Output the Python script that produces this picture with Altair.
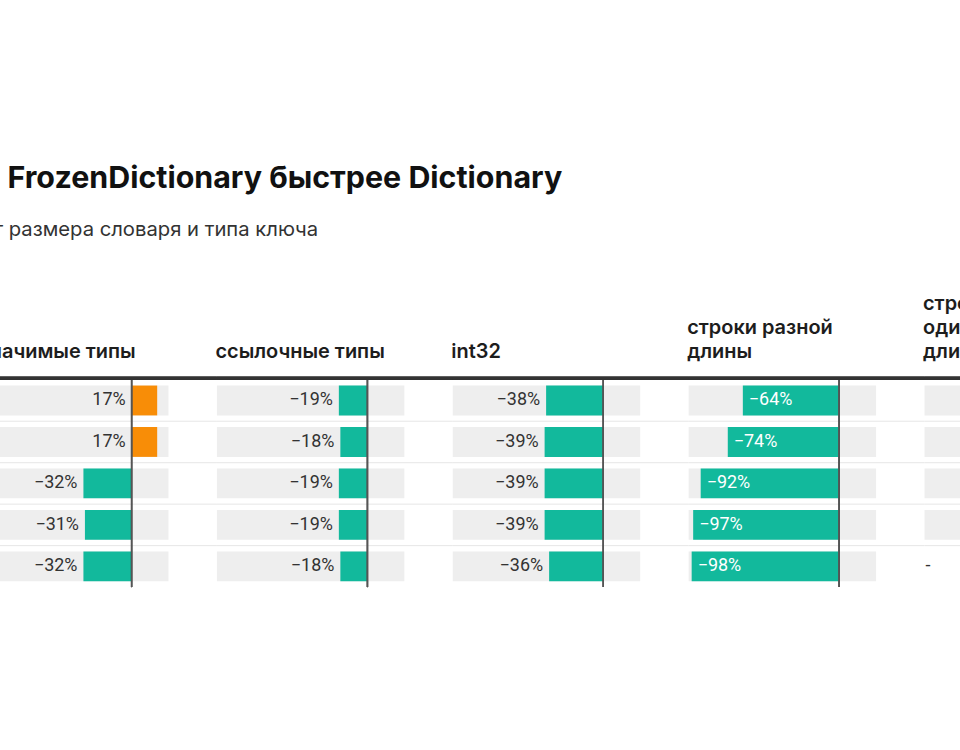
import math
import altair as alt
import pandas as pd

# ---------------- data ----------------
title_text = "FrozenDictionary быстрее Dictionary"
subtitle_text = "от размера словаря и типа ключа"

columns = ["значимые типы", "ссылочные типы", "int32",
           "строки разной длины", "строки одинаковой длины"]
headers = [["значимые типы"], ["ссылочные типы"], ["int32"],
           ["строки разной", "длины"], ["строки", "одинаковой", "длины"]]
rows = [1, 2, 3, 4, 5]

value_types = [17, 17, -32, -31, -32]
reference_types = [-19, -18, -19, -19, -18]
int32_keys = [-38, -39, -39, -39, -36]
strings_varlen = [-64, -74, -92, -97, -98]
# first four cells of the last column are cut off by the picture's right edge;
# the fifth cell is an empty cell shown as "-"
strings_samelen = [None, None, None, None, "-"]

series = [value_types, reference_types, int32_keys, strings_varlen, strings_samelen]

# ---------------- styling / layout ----------------
TEAL = "#12b99c"
ORANGE = "#f88d07"
BG = "#eeeeee"
SEP = "#e6e6e6"
ZERO = "#555555"
TOP = "#333333"
LABEL = "#333333"
HEAD_FONT = "Inter"
NUM_FONT = "Roboto"

XMIN, XMAX = -100, 24.5
W, H = 188, 208
SP = 48.6
PI = 0.28
STEP = H / len(rows)
SEP_OFF = -STEP * PI / 2


def fmt(v):
    s = f"{abs(v):g}%"
    return ("\u2212" + s) if v < 0 else s


recs = []
for c, vals in zip(columns, series):
    for r, v in zip(rows, vals):
        missing = (v == "-")
        num = None if (v is None or missing) else float(v)
        recs.append({
            "col": c, "row": r, "v": num, "missing": missing,
            "label": "-" if missing else ("" if num is None else fmt(num)),
        })
df = pd.DataFrame(recs)

xs = alt.Scale(domain=[XMIN, XMAX], nice=False, zero=False)
ys = alt.Scale(paddingInner=PI, paddingOuter=PI / 2)


def panel(i):
    d = df[df["col"] == columns[i]].reset_index(drop=True)
    last = i == len(columns) - 1
    ext = W if last else W + SP
    base = alt.Chart(d).transform_calculate(lo=str(XMIN), hi=str(XMAX), zero="0",
                                            tx="min(datum.v, 0)")
    y = alt.Y("row:O", scale=ys, axis=None)

    bg = base.transform_filter("!datum.missing").mark_bar(color=BG).encode(
        x=alt.X("lo:Q", scale=xs, axis=None), x2="hi:Q", y=y)

    bars = base.transform_filter("isValid(datum.v)").mark_bar().encode(
        x=alt.X("v:Q", scale=xs, axis=None), x2="zero:Q", y=y,
        color=alt.condition("datum.v > 0", alt.value(ORANGE), alt.value(TEAL)))

    out_lbl = base.transform_filter("isValid(datum.v) && datum.v > -50").mark_text(
        align="right", dx=-6, baseline="middle", font=NUM_FONT, fontSize=18,
        color=LABEL).encode(x=alt.X("tx:Q", scale=xs, axis=None), y=y, text="label:N")

    in_lbl = base.transform_filter("isValid(datum.v) && datum.v <= -50").mark_text(
        align="left", dx=6, baseline="middle", font=NUM_FONT, fontSize=18,
        color="white").encode(x=alt.X("v:Q", scale=xs, axis=None), y=y, text="label:N")

    miss_lbl = base.transform_filter("datum.missing").mark_text(
        align="left", dx=1, baseline="middle", font=NUM_FONT, fontSize=18,
        color=LABEL).encode(x=alt.X("lo:Q", scale=xs, axis=None), y=y, text="label:N")

    seps = base.transform_filter("datum.row > 1").mark_rule(
        color=SEP, strokeWidth=1, yOffset=SEP_OFF).encode(
        y=alt.Y("row:O", scale=ys, axis=None, bandPosition=0),
        x=alt.value(0), x2=alt.value(ext))

    zero_rule = base.mark_rule(color=ZERO, strokeWidth=1.3).encode(
        x=alt.X("zero:Q", scale=xs, axis=None))

    top_rule = base.mark_rule(color=TOP, strokeWidth=3).encode(
        y=alt.value(-1.5), x=alt.value(0), x2=alt.value(ext))

    return alt.layer(bg, seps, bars, zero_rule, top_rule, out_lbl, in_lbl, miss_lbl).properties(
        width=W, height=H,
        title=alt.TitleParams(text=headers[i], anchor="start", font=HEAD_FONT,
                              fontSize=20, fontWeight=600, color="#1d1d1d",
                              lineHeight=24, offset=15))


inner = alt.hconcat(*[panel(i) for i in range(len(columns))], spacing=SP,
                    bounds="flush").properties(
    title=alt.TitleParams(text=subtitle_text, anchor="start", font=HEAD_FONT,
                          fontSize=20.3, fontWeight=400, color="#333333",
                          dx=2, offset=54))

total_w = 4 * (W + SP) + W
right_pad = 960 + 21 - math.ceil(total_w)

chart = alt.vconcat(inner).properties(
    title=alt.TitleParams(text=title_text, anchor="start", font=HEAD_FONT,
                          fontSize=30.5, fontWeight=700, color="#111111",
                          dx=28, offset=26),
    padding={"left": -21, "top": 163, "right": right_pad, "bottom": 10},
    background="white",
).configure_view(stroke=None)

chart.save("out.html", embed_options={"renderer": "svg", "actions": False})
